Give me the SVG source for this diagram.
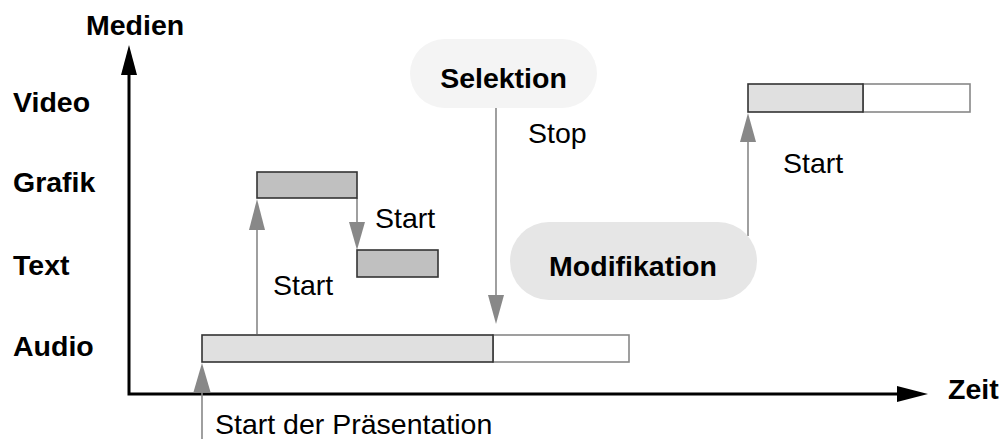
<svg xmlns="http://www.w3.org/2000/svg" width="1004" height="439" viewBox="0 0 1004 439">
  <style>
    .lbl { font-family: "Liberation Sans", Arial, sans-serif; font-size: 28.5px; fill: #000; }
    .bold { font-weight: bold; }
    .axis { stroke: #000; stroke-width: 3; fill: none; }
    .link { stroke: #888; stroke-width: 1.6; fill: none; }
    .head { fill: #888; }
    .ahead { fill: #000; }
    .barL { fill: #e0e0e0; stroke: #333; stroke-width: 1.6; }
    .barD { fill: #c0c0c0; stroke: #333; stroke-width: 1.6; }
    .barE { fill: #fff; stroke: #888; stroke-width: 1.6; }
  </style>

  <!-- axes -->
  <g id="axes">
    <polyline class="axis" points="129,74 129,394 898,394"/>
    <polygon class="ahead" points="129,45 121,75 137,75"/>
    <polygon class="ahead" points="928,394 897,386 897,402"/>
    <text class="lbl bold" x="86" y="35">Medien</text>
    <text class="lbl bold" x="948" y="399">Zeit</text>
  </g>

  <!-- media row labels -->
  <g id="rows">
    <text class="lbl bold" x="13" y="112">Video</text>
    <text class="lbl bold" x="13" y="192">Grafik</text>
    <text class="lbl bold" x="13" y="275">Text</text>
    <text class="lbl bold" x="13" y="356">Audio</text>
  </g>

  <!-- connectors -->
  <g id="connectors">
    <line class="link" x1="202" y1="439" x2="202" y2="380"/>
    <polygon class="head" points="202,363 193.5,392 210.5,392"/>

    <line class="link" x1="257" y1="334" x2="257" y2="215"/>
    <polygon class="head" points="257,199 249,230 265,230"/>

    <line class="link" x1="357" y1="198" x2="357" y2="235"/>
    <polygon class="head" points="357,250 349,222 365,222"/>

    <line class="link" x1="496" y1="108" x2="496" y2="305"/>
    <polygon class="head" points="496,324 488,295 504,295"/>

    <line class="link" x1="748" y1="236" x2="748" y2="128"/>
    <polygon class="head" points="748,113 740,142 756,142"/>
  </g>

  <!-- connector labels -->
  <g id="connector-labels">
    <text class="lbl" x="215" y="434">Start der Präsentation</text>
    <text class="lbl" x="273" y="295">Start</text>
    <text class="lbl" x="375" y="228">Start</text>
    <text class="lbl" x="528" y="143">Stop</text>
    <text class="lbl" x="783" y="173">Start</text>
  </g>

  <!-- timeline bars -->
  <g id="audio">
    <rect class="barE" x="493" y="335" width="136" height="27"/>
    <rect class="barL" x="202" y="335" width="291" height="27"/>
  </g>
  <g id="grafik">
    <rect class="barD" x="257" y="172" width="100" height="26"/>
  </g>
  <g id="text">
    <rect class="barD" x="357" y="250" width="81" height="27"/>
  </g>
  <g id="video">
    <rect class="barE" x="863" y="84" width="107" height="28"/>
    <rect class="barL" x="748" y="84" width="115" height="28"/>
  </g>

  <!-- event nodes -->
  <g id="selektion">
    <rect x="410" y="39" width="187" height="69" rx="34.5" fill="#f4f4f4"/>
    <text class="lbl bold" x="503.5" y="88" text-anchor="middle">Selektion</text>
  </g>
  <g id="modifikation">
    <rect x="510" y="222" width="247" height="78" rx="39" fill="#e6e6e6"/>
    <text class="lbl bold" x="633" y="276" text-anchor="middle">Modifikation</text>
  </g>
</svg>
